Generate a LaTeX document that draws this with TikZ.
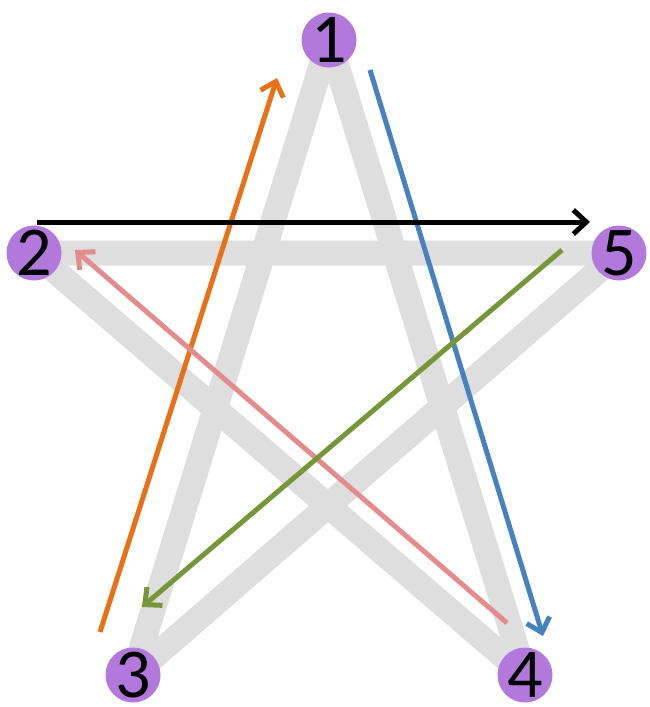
\documentclass[tikz,border=0pt]{standalone}
\usepackage{fontspec}
\setmainfont{Carlito}
\usetikzlibrary{arrows.meta}
\definecolor{starg}{RGB}{222,222,222}
\definecolor{vert}{RGB}{178,120,220}
\definecolor{orangeA}{RGB}{232,112,22}
\definecolor{blueA}{RGB}{70,130,190}
\definecolor{pinkA}{RGB}{228,140,140}
\definecolor{greenA}{RGB}{118,150,55}
\tikzset{
  vtx/.style={circle,fill=vert,minimum size=55pt,inner sep=0pt,
    label={[font=\fontsize{70}{70}\selectfont,inner sep=0pt]center:#1}},
  starline/.style={starg,line width=25pt},
  arr/.style={line width=5pt,-{Straight Barb[length=13pt,width=24pt,line width=5pt]}}
}
\begin{document}
\begin{tikzpicture}[x=1pt,y=-1pt]
\useasboundingbox (0,0) rectangle (649,707);
\coordinate (p1) at (329,40);
\coordinate (p2) at (34,253);
\coordinate (p5) at (619,253);
\coordinate (p3) at (133,675);
\coordinate (p4) at (525,675);
\draw[starline,line join=round] (p1) -- (p3) -- (p5) -- (p2) -- (p4) -- cycle;
\node[vtx=1] (n1) at (p1) {};
\node[vtx=2] (n2) at (p2) {};
\node[vtx=5] (n5) at (p5) {};
\node[vtx=3] (n3) at (p3) {};
\node[vtx=4] (n4) at (p4) {};
\coordinate (a1s) at (100,632);
\coordinate (a1e) at (277,78);
\coordinate (a2s) at (370,70);
\coordinate (a2e) at (543,636);
\coordinate (a3s) at (37,222);
\coordinate (a3e) at (590,222);
\coordinate (a4s) at (507,623);
\coordinate (a4e) at (75,250);
\coordinate (a5s) at (562,250);
\coordinate (a5e) at (142,607);
\draw[arr,orangeA] (a1s) -- (a1e);
\draw[arr,blueA] (a2s) -- (a2e);
\draw[arr,black] (a3s) -- (a3e);
\draw[arr,pinkA] (a4s) -- (a4e);
\draw[arr,greenA] (a5s) -- (a5e);
\end{tikzpicture}
\end{document}
